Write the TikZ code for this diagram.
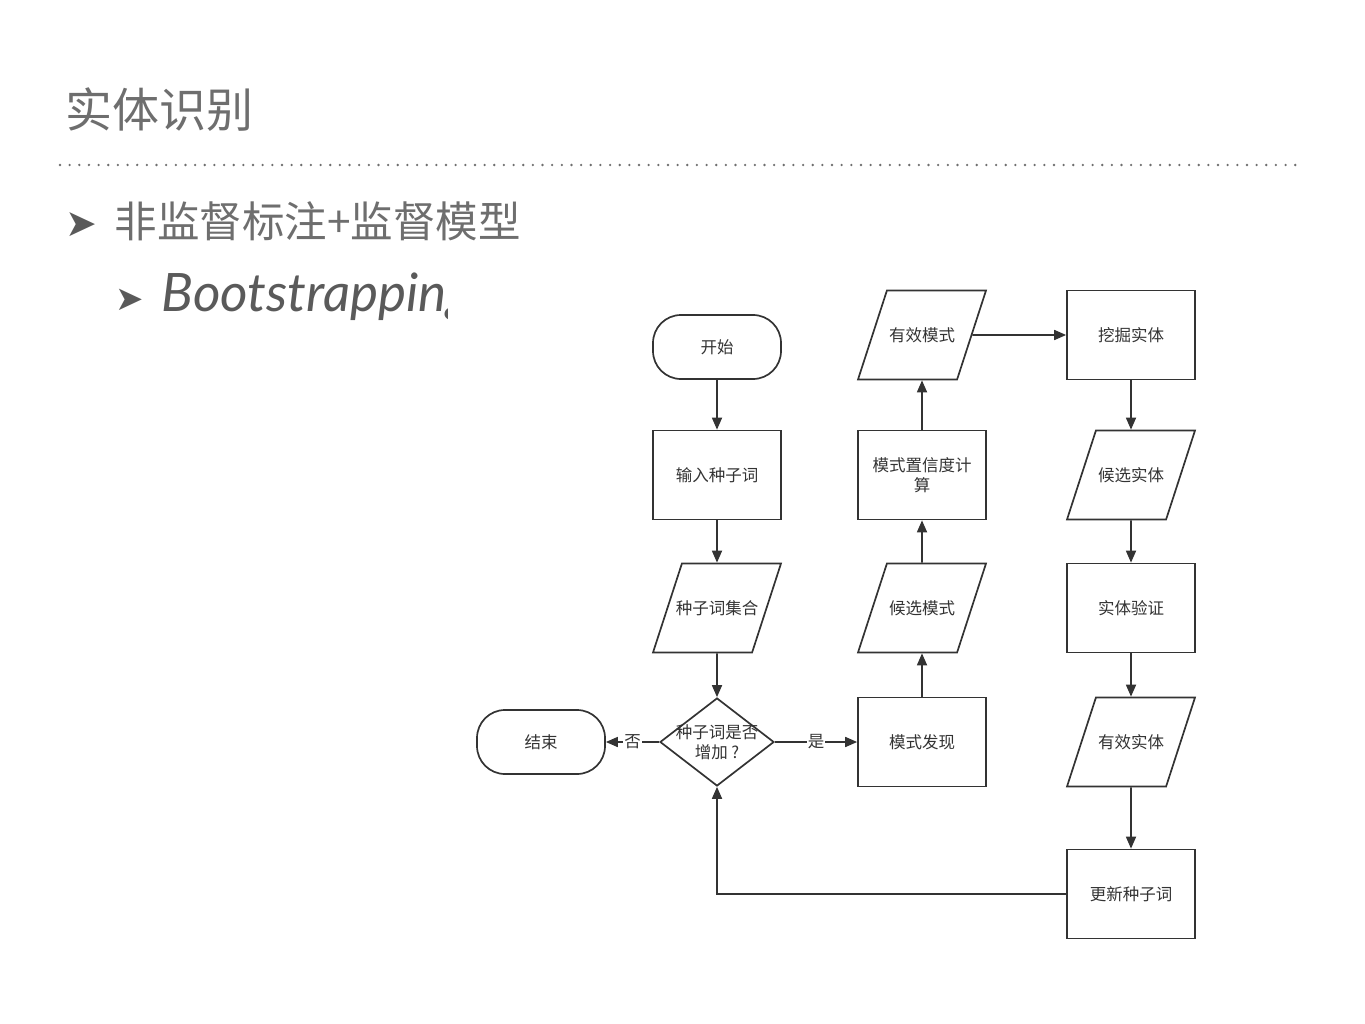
\documentclass[tikz,border=0pt]{standalone}
\usepackage{fontspec}
\setmainfont{Noto Sans CJK SC}
\newfontfamily\symfont{DejaVu Sans}
\newfontfamily\bootfont{Lato}
\usepackage{tikz}
\usetikzlibrary{arrows.meta,shapes.geometric}
\definecolor{linec}{RGB}{51,51,51}
\definecolor{titlegray}{RGB}{110,110,110}
\definecolor{bodygray}{RGB}{90,90,90}
\newcommand{\iotext}[1]{\makebox[60pt]{#1}}

\begin{document}
\begin{tikzpicture}[line join=miter,>={Triangle[length=12pt,width=10pt]},x=1pt,y=-1pt,
    box/.style={draw=linec,line width=1.7pt,minimum width=128pt,minimum height=89pt,inner sep=0pt,
        text=linec,align=center,font=\fontsize{16.5}{20}\selectfont},
    io/.style={box,trapezium,trapezium left angle=72,trapezium right angle=108,trapezium stretches body=true,
        text height=14pt,text depth=2pt,inner ysep=36.5pt,inner xsep=0pt},
    term/.style={box,minimum height=64pt,rounded corners=28pt},
    decide/.style={box,diamond,minimum width=114pt,minimum height=88pt},
    flow/.style={->,draw=linec,line width=1.7pt},
    yesno/.style={fill=white,inner sep=1pt,text=linec,font=\fontsize{16.5}{20}\selectfont}]
        \useasboundingbox (0,0) rectangle (1365,1024);
        % heading
        \node[anchor=west,text=titlegray,font=\fontsize{47}{50}\selectfont] (title) at (62,110) {实体识别};
        \draw [titlegray,line width=2.6pt,line cap=round,dash pattern=on 0pt off 9.65pt] (60,165) -- (1298,165);
        \node[text=bodygray,font=\symfont\fontsize{38}{40}\selectfont] (dot1) at (81,225) {➤};
        \node[anchor=west,text=titlegray,font=\fontsize{42.5}{46}\selectfont] (item1) at (111,221) {非监督标注+监督模型};
        \node[text=bodygray,font=\symfont\fontsize{34}{36}\selectfont] (dot2) at (130,300) {➤};
        \begin{scope}
            \clip (150,260) rectangle (447,335);
            \node[anchor=west,text=bodygray,font=\bootfont\itshape\fontsize{53}{56}\selectfont] (item2) at (158,297) {Bootstrapping};
        \end{scope}
        % flowchart
        \node[term] (start) at (717,347) {开始};
        \node[box] (input) at (717,475) {输入种子词};
        \node[io] (seedset) at (717,608) {\iotext{种子词集合}};
        \node[decide] (grow) at (717,742) {};
        \node[text=linec,align=center,font=\fontsize{16.5}{20}\selectfont] (growtxt) at (717,742) {种子词是否\\增加 ?};
        \node[term] (stop) at (541,742) {结束};
        \node[box] (find) at (922,742) {模式发现};
        \node[io] (candpat) at (922,608) {\iotext{候选模式}};
        \node[box] (conf) at (922,475) {模式置信度计\\算};
        \node[io] (validpat) at (922,335) {\iotext{有效模式}};
        \node[box] (mine) at (1131,335) {挖掘实体};
        \node[io] (candent) at (1131,475) {\iotext{候选实体}};
        \node[box] (verify) at (1131,608) {实体验证};
        \node[io] (valident) at (1131,742) {\iotext{有效实体}};
        \node[box] (update) at (1131,894) {更新种子词};
        \draw [flow] (start) -- (input);
        \draw [flow] (input) -- (seedset);
        \draw [flow] (seedset) -- (grow);
        \draw [flow] (grow) -- node[yesno] {否} (stop);
        \draw [flow] (grow) -- node[yesno] {是} (find);
        \draw [flow] (find) -- (candpat);
        \draw [flow] (candpat) -- (conf);
        \draw [flow] (conf) -- (validpat);
        \draw [flow] (validpat) -- (mine);
        \draw [flow] (mine) -- (candent);
        \draw [flow] (candent) -- (verify);
        \draw [flow] (verify) -- (valident);
        \draw [flow] (valident) -- (update);
        \draw [flow] (update) -| (grow);
    \end{tikzpicture}
\end{document}
